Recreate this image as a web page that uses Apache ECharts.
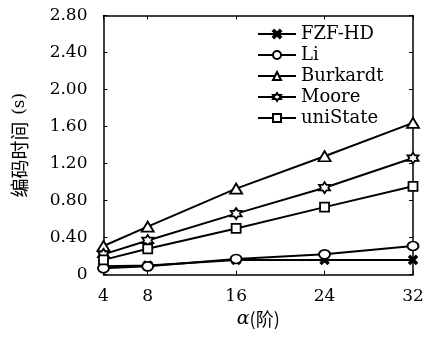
<!DOCTYPE html>
<html><head><meta charset="utf-8">
<script src="https://cdn.jsdelivr.net/npm/echarts@6/dist/echarts.min.js"></script>
<style>html,body{margin:0;padding:0;background:#fff}#c{width:428px;height:343px}</style>
</head><body><div id="c"></div>
<script>
const xValues = [4, 8, 16, 24, 32];
const xTicks = [4, 8, 16, 24, 32];
const seriesNames = ['FZF-HD', 'Li', 'Burkardt', 'Moore', 'uniState'];
const fzfhd = [0.09, 0.10, 0.16, 0.16, 0.16];
const li = [0.07, 0.09, 0.17, 0.22, 0.31];
const burkardt = [0.31, 0.52, 0.93, 1.28, 1.64];
const moore = [0.22, 0.37, 0.66, 0.94, 1.26];
const unistate = [0.16, 0.28, 0.50, 0.73, 0.955];
const yMin = 0, yMax = 2.8, yStep = 0.4;

const xSym = 'path://M0,3L3,0L10,7L17,0L20,3L13,10L20,17L17,20L10,13L3,20L0,17L7,10Z';
const hexSym = 'path://M10,0L12.89,5L18.66,5L15.77,10L18.66,15L12.89,15L10,20L7.11,15L1.34,15L4.23,10L1.34,5L7.11,5Z';

const serif = 'DejaVu Serif';
const cjk = 'Noto Sans CJK SC';
const dataSets = [fzfhd, li, burkardt, moore, unistate];
const symbols = [xSym, 'circle', 'triangle', hexSym, 'rect'];
const sizes = [[8, 8], [11, 9], [12, 10], [11, 11], [9, 9]];
const fills = ['#000', '#fff', '#fff', '#fff', '#fff'];

const series = seriesNames.map((n, i) => ({
  name: n, type: 'line',
  data: xValues.map((x, j) => [x, dataSets[i][j]]),
  symbol: symbols[i], symbolSize: sizes[i],
  showAllSymbol: true,
  lineStyle: { color: '#000', width: 2 },
  itemStyle: { color: fills[i], borderColor: '#000', borderWidth: 1.8 },
  emphasis: { disabled: true },
  animation: false,
  z: 3
}));

const chart = echarts.init(document.getElementById('c'), null, { renderer: 'canvas' });
const axisLine = { show: true, onZero: false, lineStyle: { color: '#000', width: 1.5 } };
chart.setOption({
  animation: false,
  backgroundColor: '#fff',
  grid: { left: 103.5, right: 15, top: 15.5, bottom: 68.3 },
  legend: {
    orient: 'vertical', left: 252, top: 20,
    itemWidth: 38, itemHeight: 10, itemGap: 3,
    data: seriesNames,
    textStyle: { fontFamily: serif, fontSize: 18, color: '#000', lineHeight: 16 }
  },
  xAxis: [{
    type: 'value', min: 4, max: 32, position: 'bottom',
    axisLine: axisLine,
    axisTick: { show: true, inside: true, length: 4, customValues: xTicks, lineStyle: { color: '#000' } },
    axisLabel: { customValues: xTicks, fontFamily: serif, fontSize: 17, color: '#000', margin: 13 },
    splitLine: { show: false },
    name: '{a|α}{b|(阶)}', nameLocation: 'middle', nameGap: 30,
    nameTextStyle: { rich: {
      a: { fontFamily: serif, fontStyle: 'italic', fontSize: 19, color: '#000' },
      b: { fontFamily: cjk, fontSize: 18, color: '#000' } } }
  }, {
    type: 'value', min: 4, max: 32, position: 'top',
    axisLine: axisLine,
    axisTick: { show: true, inside: true, length: 4, customValues: xTicks, lineStyle: { color: '#000' } },
    axisLabel: { show: false }, splitLine: { show: false }
  }],
  yAxis: [{
    type: 'value', min: yMin, max: yMax, interval: yStep, position: 'left',
    axisLine: axisLine,
    axisTick: { show: true, inside: true, length: 4, lineStyle: { color: '#000' } },
    axisLabel: { fontFamily: serif, fontSize: 17, color: '#000', margin: 16,
      formatter: v => v === 0 ? '0' : v.toFixed(2) },
    splitLine: { show: false },
    name: '{a|编码时间}  {b|(s)}', nameLocation: 'middle', nameGap: 74, nameRotate: 90,
    nameTextStyle: { rich: {
      a: { fontFamily: cjk, fontSize: 19, color: '#000' },
      b: { fontFamily: serif, fontSize: 17, color: '#000' } } }
  }, {
    type: 'value', min: yMin, max: yMax, interval: yStep, position: 'right',
    axisLine: axisLine,
    axisTick: { show: true, inside: true, length: 4, lineStyle: { color: '#000' } },
    axisLabel: { show: false }, splitLine: { show: false }
  }],
  series: series
});
</script></body></html>
